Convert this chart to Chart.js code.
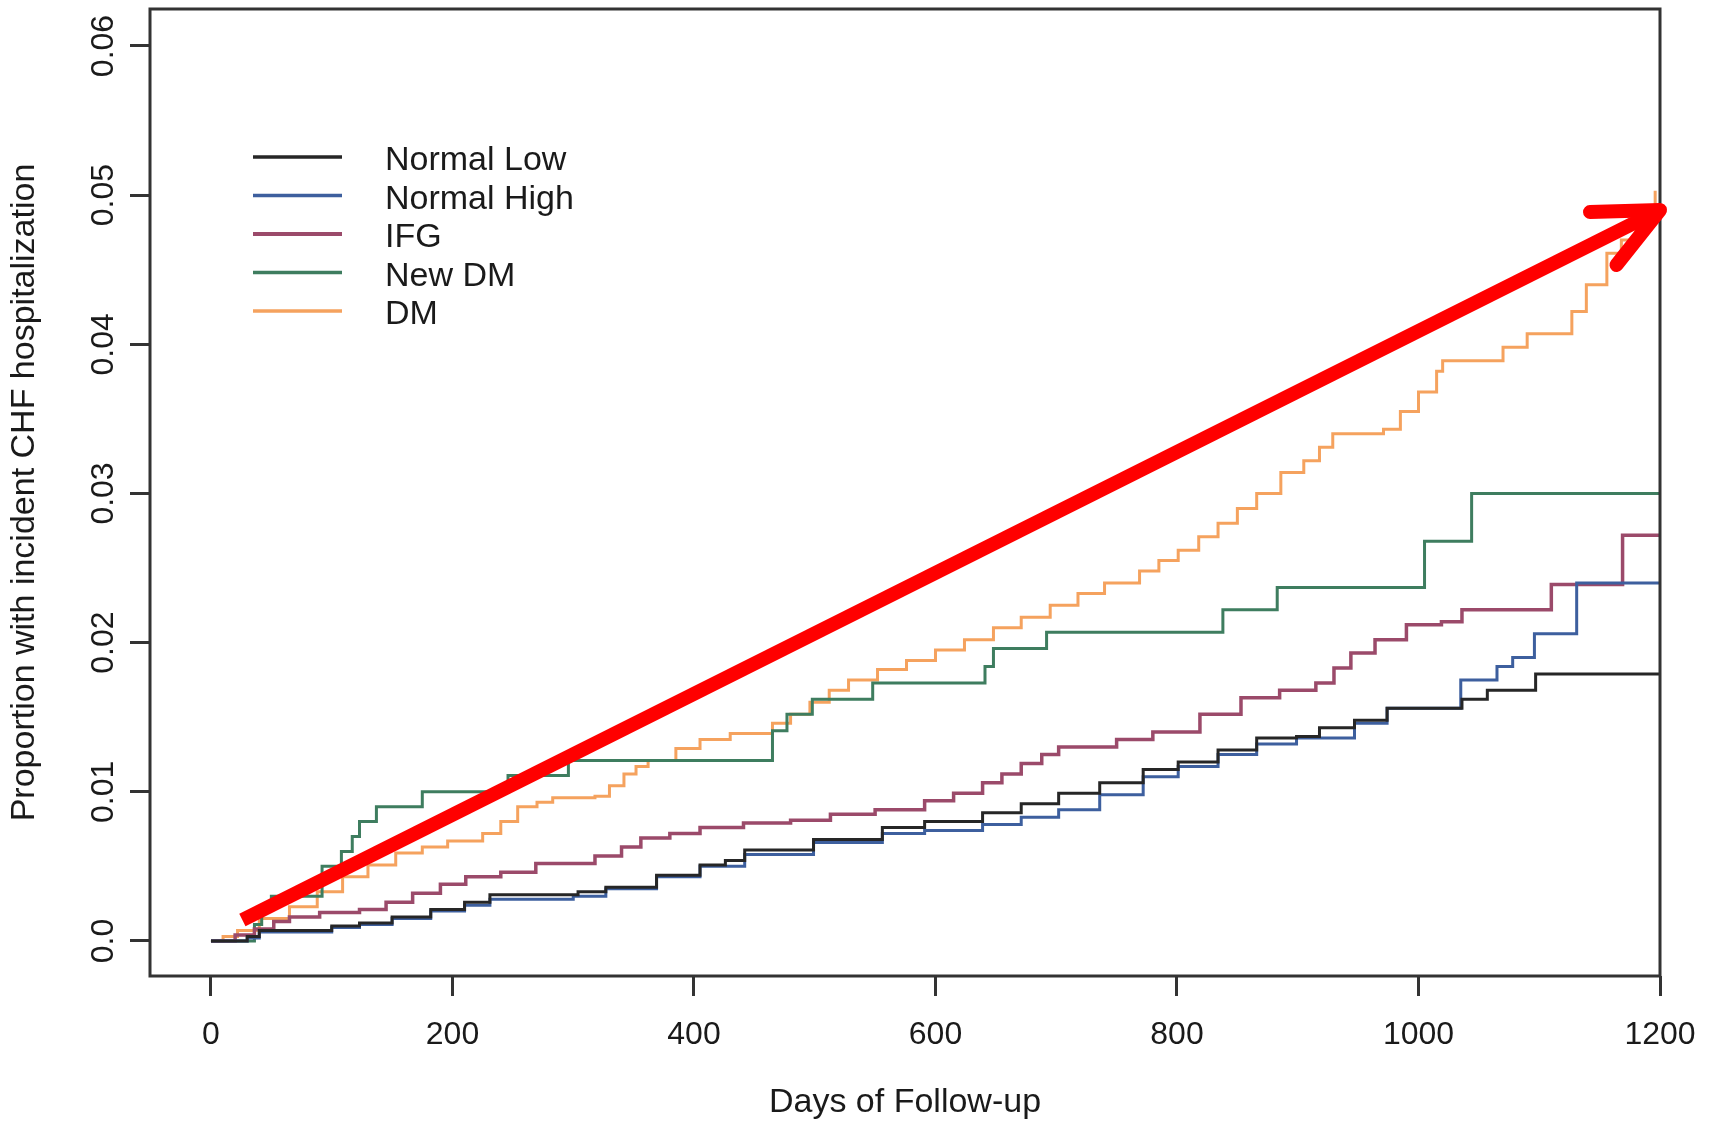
<!DOCTYPE html>
<html>
<head>
<meta charset="utf-8">
<title>Incident CHF hospitalization</title>
<script src="https://cdn.jsdelivr.net/npm/chart.js@4/dist/chart.umd.min.js"></script>
<style>
  body { margin: 0; background: #fff; }
  canvas { display: block; }
</style>
</head>
<body>
<canvas id="km" width="1716" height="1127"></canvas>
<script>
const xTicks = [0, 200, 400, 600, 800, 1000, 1200];
const yTicks = [0, 0.01, 0.02, 0.03, 0.04, 0.05, 0.06];
const yTickLabels = ['0.0', '0.01', '0.02', '0.03', '0.04', '0.05', '0.06'];

const seriesNames = ['Normal Low', 'Normal High', 'IFG', 'New DM', 'DM'];

// Normal Low
const nlDays = [0, 30, 40, 100, 123, 150, 182, 210, 231, 304, 327, 369, 405, 426, 442, 499, 556, 591, 639, 671, 702, 736, 772, 801, 834, 866, 899, 918, 947, 974, 1036, 1057, 1097, 1200];
const nlVals = [0, 0.0003, 0.0007, 0.0010, 0.0012, 0.0016, 0.0021, 0.0026, 0.0031, 0.0033, 0.0036, 0.0044, 0.0051, 0.0054, 0.0061, 0.0068, 0.0076, 0.0080, 0.0086, 0.0092, 0.0099, 0.0106, 0.0115, 0.0120, 0.0128, 0.0136, 0.0137, 0.0143, 0.0148, 0.0156, 0.0162, 0.0168, 0.0179, 0.0179];

// Normal High
const nhDays = [0, 30, 40, 100, 123, 150, 182, 210, 231, 300, 327, 369, 405, 442, 499, 556, 591, 639, 671, 702, 736, 772, 801, 834, 866, 899, 947, 974, 1035, 1065, 1078, 1096, 1131, 1200];
const nhVals = [0, 0.0002, 0.0006, 0.0009, 0.0011, 0.0015, 0.0020, 0.0024, 0.0028, 0.0030, 0.0035, 0.0043, 0.0050, 0.0058, 0.0066, 0.0072, 0.0074, 0.0078, 0.0083, 0.0088, 0.0098, 0.0110, 0.0117, 0.0125, 0.0132, 0.0136, 0.0146, 0.0156, 0.0175, 0.0184, 0.0190, 0.0206, 0.0240, 0.0240];

// IFG
const ifgDays = [0, 20, 36, 52, 65, 90, 123, 145, 167, 190, 211, 240, 269, 318, 340, 356, 380, 405, 441, 480, 513, 550, 591, 615, 639, 655, 671, 688, 702, 750, 780, 819, 853, 885, 915, 930, 944, 964, 990, 1019, 1036, 1110, 1169, 1200];
const ifgVals = [0, 0.0004, 0.0008, 0.0013, 0.0016, 0.0019, 0.0021, 0.0026, 0.0032, 0.0038, 0.0043, 0.0046, 0.0052, 0.0057, 0.0063, 0.0069, 0.0072, 0.0076, 0.0079, 0.0081, 0.0085, 0.0088, 0.0094, 0.0099, 0.0106, 0.0112, 0.0119, 0.0125, 0.0130, 0.0135, 0.0140, 0.0152, 0.0163, 0.0168, 0.0173, 0.0183, 0.0193, 0.0202, 0.0212, 0.0214, 0.0222, 0.0239, 0.0272, 0.0272];

// New DM
const newDays = [0, 36, 42, 50, 92, 108, 117, 123, 137, 175, 246, 296, 465, 477, 498, 548, 641, 648, 692, 838, 883, 1005, 1044, 1200];
const newVals = [0, 0.0011, 0.0021, 0.0030, 0.0050, 0.0060, 0.0070, 0.0080, 0.0090, 0.0100, 0.0111, 0.0121, 0.0141, 0.0152, 0.0162, 0.0173, 0.0184, 0.0196, 0.0207, 0.0222, 0.0237, 0.0268, 0.0300, 0.0300];

// DM
const dmDays = [0, 10, 22, 40, 65, 88, 109, 130, 153, 175, 196, 225, 240, 254, 270, 283, 318, 330, 342, 352, 362, 385, 405, 430, 465, 480, 496, 512, 528, 552, 576, 600, 624, 648, 671, 695, 718, 740, 769, 785, 801, 818, 834, 850, 866, 886, 905, 918, 929, 971, 985, 1000, 1015, 1020, 1070, 1090, 1127, 1139, 1156, 1168, 1180, 1190, 1196];
const dmVals = [0, 0.0003, 0.0007, 0.0015, 0.0023, 0.0033, 0.0043, 0.0051, 0.0059, 0.0063, 0.0067, 0.0072, 0.0080, 0.0090, 0.0093, 0.0096, 0.0097, 0.0104, 0.0112, 0.0117, 0.0121, 0.0129, 0.0135, 0.0139, 0.0146, 0.0152, 0.0160, 0.0168, 0.0175, 0.0182, 0.0188, 0.0195, 0.0202, 0.0210, 0.0217, 0.0225, 0.0233, 0.0240, 0.0248, 0.0255, 0.0262, 0.0271, 0.0280, 0.0290, 0.0300, 0.0314, 0.0322, 0.0331, 0.0340, 0.0343, 0.0355, 0.0368, 0.0382, 0.0389, 0.0398, 0.0407, 0.0422, 0.0440, 0.0461, 0.0470, 0.0482, 0.0492, 0.0503];

// red arrow drawn over the chart (data coordinates)
const arrowFrom = [26, 0.0014];
const arrowTo = [1200, 0.0490];

const FONT = '"Liberation Sans", Arial, Helvetica, sans-serif';
const INK = '#1a1a1a';

function pts(days, vals) {
  return days.map((d, i) => ({ x: d, y: vals[i] }));
}

function series(label, days, vals, color, width) {
  return {
    label: label,
    data: pts(days, vals),
    borderColor: color,
    borderWidth: width,
    stepped: true,
    pointRadius: 0,
    fill: false,
  };
}

// box, rotated y labels, legend and arrow
const overlay = {
  id: 'overlay',
  afterDraw(chart) {
    const { ctx, chartArea: a, scales } = chart;
    const x = scales.x, y = scales.y;
    ctx.save();

    ctx.strokeStyle = '#333';
    ctx.lineWidth = 3;
    ctx.strokeRect(a.left, a.top, a.right - a.left, a.bottom - a.top);

    // y tick labels are parallel to the axis, like R
    ctx.fillStyle = INK;
    ctx.font = '32px ' + FONT;
    ctx.textAlign = 'center';
    ctx.textBaseline = 'middle';
    y.ticks.forEach((t, i) => {
      ctx.save();
      ctx.translate(a.left - 46, y.getPixelForValue(t.value));
      ctx.rotate(-Math.PI / 2);
      ctx.fillText(yTickLabels[i], 0, 0);
      ctx.restore();
    });

    // legend
    ctx.font = '34px ' + FONT;
    ctx.textAlign = 'left';
    chart.data.datasets.forEach((ds, i) => {
      const ty = 161 + i * 38.5;
      ctx.strokeStyle = ds.borderColor;
      ctx.lineWidth = ds.borderWidth + 0.5;
      ctx.beginPath();
      ctx.moveTo(253, ty - 4);
      ctx.lineTo(342, ty - 4);
      ctx.stroke();
      ctx.fillStyle = INK;
      ctx.fillText(ds.label, 385, ty);
    });

    // arrow
    const x0 = x.getPixelForValue(arrowFrom[0]), y0 = y.getPixelForValue(arrowFrom[1]);
    const x1 = x.getPixelForValue(arrowTo[0]), y1 = y.getPixelForValue(arrowTo[1]);
    const ang = Math.atan2(y1 - y0, x1 - x0);
    ctx.strokeStyle = '#ff0000';
    ctx.lineWidth = 14;
    ctx.lineCap = 'butt';
    ctx.beginPath();
    ctx.moveTo(x0, y0);
    ctx.lineTo(x1 - 6 * Math.cos(ang), y1 - 6 * Math.sin(ang));
    ctx.stroke();
    ctx.lineCap = 'round';
    ctx.lineJoin = 'round';
    const head = 70, spread = 25 * Math.PI / 180;
    ctx.beginPath();
    ctx.moveTo(x1 - head * Math.cos(ang - spread), y1 - head * Math.sin(ang - spread));
    ctx.lineTo(x1, y1);
    ctx.lineTo(x1 - head * Math.cos(ang + spread), y1 - head * Math.sin(ang + spread));
    ctx.stroke();

    ctx.restore();
  }
};

new Chart(document.getElementById('km'), {
  type: 'line',
  data: {
    datasets: [
      series(seriesNames[0], nlDays, nlVals, '#262626', 3),
      series(seriesNames[1], nhDays, nhVals, '#3d5f9e', 3),
      series(seriesNames[2], ifgDays, ifgVals, '#9b4a6a', 3.5),
      series(seriesNames[3], newDays, newVals, '#3e7d5f', 3),
      series(seriesNames[4], dmDays, dmVals, '#f5a25e', 3),
    ],
  },
  options: {
    responsive: false,
    devicePixelRatio: 1,
    animation: false,
    layout: { padding: { top: 9, right: 56, left: 0, bottom: 0 } },
    plugins: { legend: { display: false }, tooltip: { enabled: false } },
    scales: {
      x: {
        type: 'linear',
        min: -50.5,
        max: 1200,
        afterBuildTicks: (s) => { s.ticks = xTicks.map((v) => ({ value: v })); },
        afterFit: (s) => { s.height = 151; },
        ticks: {
          color: INK,
          font: { family: FONT, size: 32 },
          padding: 20,
          maxRotation: 0,
          callback: (v) => String(v),
        },
        grid: { drawOnChartArea: false, drawTicks: true, tickLength: 20, tickColor: '#333', tickWidth: 3 },
        border: { display: false },
        title: {
          display: true,
          text: 'Days of Follow-up',
          color: INK,
          font: { family: FONT, size: 34 },
          padding: { top: 0, bottom: 4 },
        },
      },
      y: {
        type: 'linear',
        min: -0.00235,
        max: 0.06248,
        afterBuildTicks: (s) => { s.ticks = yTicks.map((v) => ({ value: v })); },
        afterFit: (s) => { s.width = 150; },
        ticks: { display: false },
        grid: { drawOnChartArea: false, drawTicks: true, tickLength: 20, tickColor: '#333', tickWidth: 3 },
        border: { display: false },
        title: {
          display: true,
          text: 'Proportion with incident CHF hospitalization',
          color: INK,
          font: { family: FONT, size: 34 },
          padding: { top: 4, bottom: 0 },
        },
      },
    },
  },
  plugins: [overlay],
});
</script>
</body>
</html>
